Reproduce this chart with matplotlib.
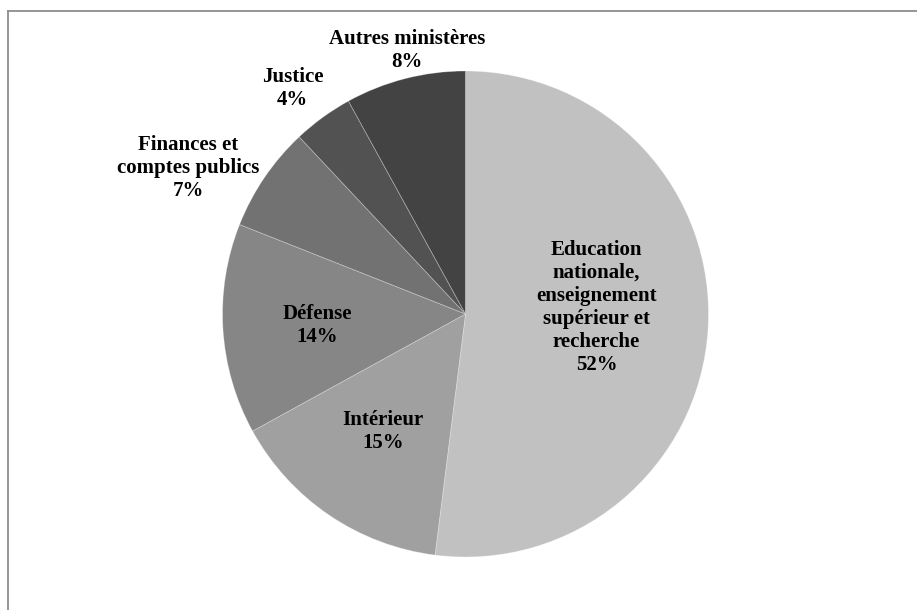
import numpy as np
import matplotlib
matplotlib.use("Agg")
import matplotlib.pyplot as plt
from matplotlib.lines import Line2D

categories = ["Education\nnationale,\nenseignement\nsupérieur et\nrecherche",
              "Intérieur", "Défense", "Finances et\ncomptes publics",
              "Justice", "Autres ministères"]
values = [52, 15, 14, 7, 4, 8]
colors = ["#c1c1c1", "#a0a0a0", "#868686", "#727272", "#525252", "#434343"]

# label placement (radius fraction, angle tweak in degrees)
label_r = [0.54, 0.59, 0.61, 1.29, 1.17, 1.11]
label_dt = [6.6, -0.8, 0.7, 6.5, 1.5, -1.9]

W, H = 917, 610
fig = plt.figure(figsize=(W / 100, H / 100), dpi=100)
cx, cy, R = 465.5, 610 - 314, 243
ax = fig.add_axes([(cx - R) / W, (cy - R) / H, 2 * R / W, 2 * R / H])
wedges, _ = ax.pie(values, colors=colors, startangle=90, counterclock=False,
                   radius=1, wedgeprops=dict(edgecolor=(1, 1, 1, 0.3), linewidth=0.6))
ax.set_xlim(-1, 1)
ax.set_ylim(-1, 1)
ax.set_aspect("equal")
ax.axis("off")

for w, lab, v, r, dt in zip(wedges, categories, values, label_r, label_dt):
    mid = np.deg2rad((w.theta1 + w.theta2) / 2 + dt)
    ax.text(r * np.cos(mid), r * np.sin(mid), f"{lab}\n{v}%", ha="center", va="center",
            fontsize=15, fontweight="bold", family="Liberation Serif",
            linespacing=1.2, color="#000000", clip_on=False)

# frame (top and left edges visible)
fig.add_artist(Line2D([7.5 / W, 1.0], [1 - 10.5 / H, 1 - 10.5 / H], transform=fig.transFigure,
                      color="#8c8c8c", linewidth=1.3))
fig.add_artist(Line2D([7.5 / W, 7.5 / W], [0.0, 1 - 10.5 / H], transform=fig.transFigure,
                      color="#8c8c8c", linewidth=1.3))

fig.savefig("out.png", dpi=100, facecolor="white")
